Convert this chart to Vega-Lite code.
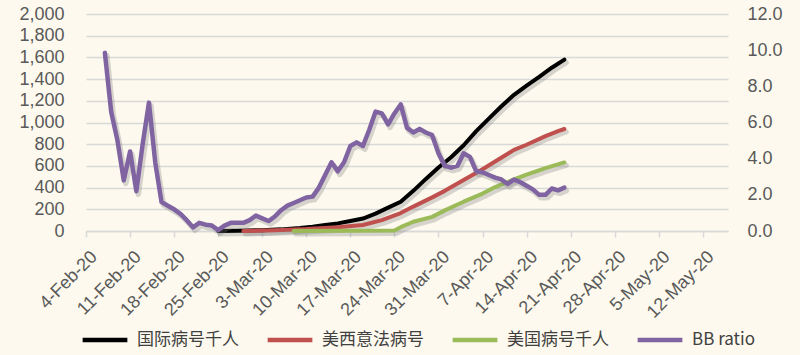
{
  "$schema": "https://vega.github.io/schema/vega-lite/v6.json",
  "width": 642,
  "height": 217,
  "autosize": "none",
  "padding": {"left": 86, "top": 14, "right": 72, "bottom": 124},
  "background": "#fdf9ee",
  "config": {
    "view": {"stroke": null},
    "font": "Liberation Sans",
    "legend": {"columnPadding": 19, "gridAlign": "all", "padding": 0, "labelOffset": 7}
  },
  "datasets": {
    "bb": [
      {"d": "2020/02/07", "v": 9.85}, {"d": "2020/02/08", "v": 6.6}, {"d": "2020/02/09", "v": 5.0}, {"d": "2020/02/10", "v": 2.8},
      {"d": "2020/02/11", "v": 4.4}, {"d": "2020/02/12", "v": 2.2}, {"d": "2020/02/13", "v": 4.8}, {"d": "2020/02/14", "v": 7.1},
      {"d": "2020/02/15", "v": 3.8}, {"d": "2020/02/16", "v": 1.6}, {"d": "2020/02/17", "v": 1.4}, {"d": "2020/02/18", "v": 1.2},
      {"d": "2020/02/19", "v": 0.95}, {"d": "2020/02/20", "v": 0.6}, {"d": "2020/02/21", "v": 0.2}, {"d": "2020/02/22", "v": 0.45},
      {"d": "2020/02/23", "v": 0.35}, {"d": "2020/02/24", "v": 0.3}, {"d": "2020/02/25", "v": 0.05}, {"d": "2020/02/26", "v": 0.3},
      {"d": "2020/02/27", "v": 0.45}, {"d": "2020/02/28", "v": 0.45}, {"d": "2020/02/29", "v": 0.45}, {"d": "2020/03/01", "v": 0.6},
      {"d": "2020/03/02", "v": 0.85}, {"d": "2020/03/03", "v": 0.7}, {"d": "2020/03/04", "v": 0.55}, {"d": "2020/03/05", "v": 0.8},
      {"d": "2020/03/06", "v": 1.15}, {"d": "2020/03/07", "v": 1.4}, {"d": "2020/03/08", "v": 1.55}, {"d": "2020/03/09", "v": 1.7},
      {"d": "2020/03/10", "v": 1.85}, {"d": "2020/03/11", "v": 1.9}, {"d": "2020/03/12", "v": 2.4}, {"d": "2020/03/13", "v": 3.1},
      {"d": "2020/03/14", "v": 3.8}, {"d": "2020/03/15", "v": 3.3}, {"d": "2020/03/16", "v": 3.8}, {"d": "2020/03/17", "v": 4.7},
      {"d": "2020/03/18", "v": 4.9}, {"d": "2020/03/19", "v": 4.7}, {"d": "2020/03/20", "v": 5.6}, {"d": "2020/03/21", "v": 6.6},
      {"d": "2020/03/22", "v": 6.5}, {"d": "2020/03/23", "v": 5.9}, {"d": "2020/03/24", "v": 6.5}, {"d": "2020/03/25", "v": 7.0},
      {"d": "2020/03/26", "v": 5.7}, {"d": "2020/03/27", "v": 5.45}, {"d": "2020/03/28", "v": 5.65}, {"d": "2020/03/29", "v": 5.45},
      {"d": "2020/03/30", "v": 5.3}, {"d": "2020/03/31", "v": 4.3}, {"d": "2020/04/01", "v": 3.6}, {"d": "2020/04/02", "v": 3.5},
      {"d": "2020/04/03", "v": 3.6}, {"d": "2020/04/04", "v": 4.3}, {"d": "2020/04/05", "v": 4.1}, {"d": "2020/04/06", "v": 3.3},
      {"d": "2020/04/07", "v": 3.25}, {"d": "2020/04/08", "v": 3.1}, {"d": "2020/04/09", "v": 2.95}, {"d": "2020/04/10", "v": 2.85},
      {"d": "2020/04/11", "v": 2.6}, {"d": "2020/04/12", "v": 2.85}, {"d": "2020/04/13", "v": 2.7}, {"d": "2020/04/14", "v": 2.5},
      {"d": "2020/04/15", "v": 2.3}, {"d": "2020/04/16", "v": 2.0}, {"d": "2020/04/17", "v": 2.0}, {"d": "2020/04/18", "v": 2.35},
      {"d": "2020/04/19", "v": 2.25}, {"d": "2020/04/20", "v": 2.4}
    ],
    "cases": [
      {"s": "国际病号千人", "d": "2020/02/25", "v": 0}, {"s": "国际病号千人", "d": "2020/02/28", "v": 3},
      {"s": "国际病号千人", "d": "2020/03/03", "v": 8}, {"s": "国际病号千人", "d": "2020/03/06", "v": 15},
      {"s": "国际病号千人", "d": "2020/03/09", "v": 28}, {"s": "国际病号千人", "d": "2020/03/11", "v": 40},
      {"s": "国际病号千人", "d": "2020/03/13", "v": 55}, {"s": "国际病号千人", "d": "2020/03/15", "v": 70},
      {"s": "国际病号千人", "d": "2020/03/17", "v": 92}, {"s": "国际病号千人", "d": "2020/03/19", "v": 115},
      {"s": "国际病号千人", "d": "2020/03/21", "v": 160}, {"s": "国际病号千人", "d": "2020/03/23", "v": 215},
      {"s": "国际病号千人", "d": "2020/03/25", "v": 270}, {"s": "国际病号千人", "d": "2020/03/27", "v": 370},
      {"s": "国际病号千人", "d": "2020/03/29", "v": 480}, {"s": "国际病号千人", "d": "2020/03/31", "v": 585},
      {"s": "国际病号千人", "d": "2020/04/02", "v": 680}, {"s": "国际病号千人", "d": "2020/04/04", "v": 790},
      {"s": "国际病号千人", "d": "2020/04/06", "v": 920}, {"s": "国际病号千人", "d": "2020/04/08", "v": 1035},
      {"s": "国际病号千人", "d": "2020/04/10", "v": 1150}, {"s": "国际病号千人", "d": "2020/04/12", "v": 1255},
      {"s": "国际病号千人", "d": "2020/04/14", "v": 1340}, {"s": "国际病号千人", "d": "2020/04/16", "v": 1420},
      {"s": "国际病号千人", "d": "2020/04/18", "v": 1505}, {"s": "国际病号千人", "d": "2020/04/20", "v": 1580},
      {"s": "美西意法病号", "d": "2020/02/29", "v": 0}, {"s": "美西意法病号", "d": "2020/03/05", "v": 8},
      {"s": "美西意法病号", "d": "2020/03/10", "v": 18}, {"s": "美西意法病号", "d": "2020/03/15", "v": 35},
      {"s": "美西意法病号", "d": "2020/03/19", "v": 55}, {"s": "美西意法病号", "d": "2020/03/22", "v": 100},
      {"s": "美西意法病号", "d": "2020/03/25", "v": 165}, {"s": "美西意法病号", "d": "2020/03/27", "v": 225},
      {"s": "美西意法病号", "d": "2020/03/30", "v": 310}, {"s": "美西意法病号", "d": "2020/04/01", "v": 370},
      {"s": "美西意法病号", "d": "2020/04/04", "v": 470}, {"s": "美西意法病号", "d": "2020/04/07", "v": 570},
      {"s": "美西意法病号", "d": "2020/04/09", "v": 640}, {"s": "美西意法病号", "d": "2020/04/12", "v": 748},
      {"s": "美西意法病号", "d": "2020/04/14", "v": 795}, {"s": "美西意法病号", "d": "2020/04/17", "v": 875},
      {"s": "美西意法病号", "d": "2020/04/19", "v": 920}, {"s": "美西意法病号", "d": "2020/04/20", "v": 940},
      {"s": "美国病号千人", "d": "2020/03/08", "v": 0}, {"s": "美国病号千人", "d": "2020/03/24", "v": 5},
      {"s": "美国病号千人", "d": "2020/03/25", "v": 35}, {"s": "美国病号千人", "d": "2020/03/27", "v": 85},
      {"s": "美国病号千人", "d": "2020/03/30", "v": 130}, {"s": "美国病号千人", "d": "2020/04/01", "v": 190},
      {"s": "美国病号千人", "d": "2020/04/04", "v": 270}, {"s": "美国病号千人", "d": "2020/04/07", "v": 345},
      {"s": "美国病号千人", "d": "2020/04/09", "v": 405}, {"s": "美国病号千人", "d": "2020/04/12", "v": 475},
      {"s": "美国病号千人", "d": "2020/04/14", "v": 520}, {"s": "美国病号千人", "d": "2020/04/17", "v": 580},
      {"s": "美国病号千人", "d": "2020/04/20", "v": 632}
    ]
  },
  "encoding": {
    "x": {
      "field": "d", "type": "temporal", "title": null,
      "scale": {"domain": [{"year": 2020, "month": 2, "date": 4}, {"year": 2020, "month": 5, "date": 16}]},
      "axis": {
        "values": [
          {"year": 2020, "month": 2, "date": 4}, {"year": 2020, "month": 2, "date": 11}, {"year": 2020, "month": 2, "date": 18},
          {"year": 2020, "month": 2, "date": 25}, {"year": 2020, "month": 3, "date": 3}, {"year": 2020, "month": 3, "date": 10},
          {"year": 2020, "month": 3, "date": 17}, {"year": 2020, "month": 3, "date": 24}, {"year": 2020, "month": 3, "date": 31},
          {"year": 2020, "month": 4, "date": 7}, {"year": 2020, "month": 4, "date": 14}, {"year": 2020, "month": 4, "date": 21},
          {"year": 2020, "month": 4, "date": 28}, {"year": 2020, "month": 5, "date": 5}, {"year": 2020, "month": 5, "date": 12}
        ],
        "labelExpr": "timeFormat(datum.value, '%-d-%b-%y')",
        "labelAngle": -45, "labelAlign": "right", "labelBaseline": "middle",
        "labelFontSize": 18, "labelColor": "#595959", "labelPadding": 17, "labelOffset": 8, "labelOverlap": false,
        "domainColor": "#d9d9d9", "domainWidth": 1.5, "tickColor": "#d9d9d9", "tickWidth": 1.5, "tickSize": 6,
        "grid": false
      }
    }
  },
  "layer": [
    {
      "data": {"name": "cases"},
      "encoding": {
        "y": {
          "field": "v", "type": "quantitative", "title": null,
          "scale": {"domain": [0, 2000], "nice": false},
          "axis": {
            "values": [0, 200, 400, 600, 800, 1000, 1200, 1400, 1600, 1800, 2000],
            "format": ",d", "labelFontSize": 18, "labelColor": "#595959", "labelPadding": 22,
            "ticks": false, "domain": false, "grid": true, "gridColor": "#d9d9d9", "gridWidth": 1.5
          }
        }
      },
      "layer": [
        {
          "mark": {"type": "line", "strokeWidth": 5, "color": "#7a7a7a", "opacity": 0.3, "xOffset": 2, "yOffset": 3, "strokeCap": "round", "strokeJoin": "round"},
          "encoding": {"detail": {"field": "s", "type": "nominal"}}
        },
        {
          "mark": {"type": "line", "strokeWidth": 4, "strokeCap": "round", "strokeJoin": "round"},
          "encoding": {
            "color": {
              "field": "s", "type": "nominal", "title": null,
              "scale": {"domain": ["国际病号千人", "美西意法病号", "美国病号千人", "BB ratio"], "range": ["#000000", "#c0504d", "#9bbb59", "#8064a2"]},
              "legend": {
                "orient": "none", "legendX": -6, "legendY": 301, "direction": "horizontal", "columns": 4,
                "gridAlign": "all", "columnPadding": 19, "padding": 0,
                "symbolType": "stroke", "symbolSize": 2000, "symbolStrokeWidth": 4.5, "labelOffset": 7,
                "labelFont": "Noto Sans CJK SC", "labelFontSize": 17, "labelColor": "#404040"
              }
            }
          }
        }
      ]
    },
    {
      "data": {"name": "bb"},
      "encoding": {
        "y": {
          "field": "v", "type": "quantitative", "title": null,
          "scale": {"domain": [0, 12], "nice": false},
          "axis": {
            "orient": "right", "values": [0, 2, 4, 6, 8, 10, 12], "format": ".1f",
            "labelFontSize": 18, "labelColor": "#595959", "labelPadding": 19,
            "ticks": false, "domain": false, "grid": false
          }
        }
      },
      "layer": [
        {
          "mark": {"type": "line", "strokeWidth": 5.5, "color": "#7a7a7a", "opacity": 0.3, "xOffset": 2, "yOffset": 3, "strokeCap": "round", "strokeJoin": "round"}
        },
        {
          "transform": [{"calculate": "'BB ratio'", "as": "s"}],
          "mark": {"type": "line", "strokeWidth": 4.5, "strokeCap": "round", "strokeJoin": "round"},
          "encoding": {
            "color": {"field": "s", "type": "nominal"}
          }
        }
      ]
    }
  ],
  "resolve": {"scale": {"y": "independent"}}
}
